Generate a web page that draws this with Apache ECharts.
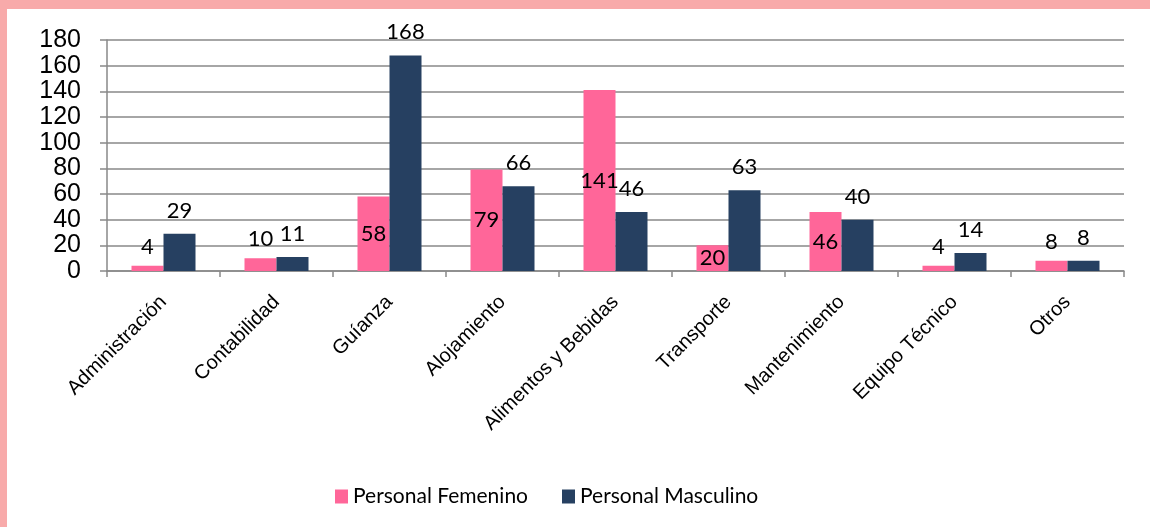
<!DOCTYPE html>
<html>
<head>
<meta charset="utf-8">
<script src="https://cdn.jsdelivr.net/npm/echarts@6/dist/echarts.min.js"></script>
<style>
  html, body { margin: 0; padding: 0; background: #fff; }
  #wrap { position: relative; width: 1150px; height: 530px; overflow: hidden; }
  #frameTop { position: absolute; left: 0; top: 0; width: 1150px; height: 9px; background: #f8aaaa; }
  #frameLeft { position: absolute; left: 0; top: 0; width: 7px; height: 527px; background: #f8aaaa; }
  #chart { position: absolute; left: 0; top: 0; width: 1150px; height: 530px; }
</style>
</head>
<body>
<div id="wrap">
  <div id="frameTop"></div>
  <div id="frameLeft"></div>
  <div id="chart"></div>
</div>
<script>
  const categorias = ["Administración", "Contabilidad", "Guíanza", "Alojamiento", "Alimentos y Bebidas", "Transporte", "Mantenimiento", "Equipo Técnico", "Otros"];
  const femenino = [4, 10, 58, 79, 141, 20, 46, 4, 8];
  const masculino = [29, 11, 168, 66, 46, 63, 40, 14, 8];
  const yTicks = [0, 20, 40, 60, 80, 100, 120, 140, 160, 180];

  const chart = echarts.init(document.getElementById("chart"));

  // etiquetas rosadas: dentro de la barra si cabe, si no arriba
  const femeninoData = femenino.map((v) => ({
    value: v,
    label: v > 15 ? { position: "inside" } : { position: "top", distance: 8 },
  }));

  const option = {
    animation: false,
    grid: { left: 107, right: 26, top: 40, bottom: 259, containLabel: false },
    legend: {
      top: 481,
      left: 330,
      itemWidth: 13,
      itemHeight: 14,
      itemGap: 34,
      icon: "rect",
      textStyle: { fontFamily: "Lato", fontSize: 21, color: "#000" },
    },
    xAxis: {
      type: "category",
      data: categorias,
      axisLine: { show: true, lineStyle: { color: "#898989", width: 1.5 } },
      axisTick: { show: true, length: 6, lineStyle: { color: "#898989", width: 1.5 } },
      axisLabel: {
        rotate: 45,
        interval: 0,
        margin: 28,
        fontFamily: "Liberation Sans",
        fontSize: 20,
        color: "#000",
      },
    },
    yAxis: {
      type: "value",
      min: yTicks[0],
      max: yTicks[yTicks.length - 1],
      interval: 20,
      axisLine: { show: true, lineStyle: { color: "#898989", width: 1.5 } },
      axisTick: { show: true, length: 7, lineStyle: { color: "#898989", width: 1.5 } },
      splitLine: { show: true, lineStyle: { color: "#898989", width: 1.5 } },
      axisLabel: {
        margin: 26,
        fontFamily: "Liberation Sans",
        fontSize: 25,
        color: "#000",
      },
    },
    series: [
      {
        name: "Personal Femenino",
        type: "bar",
        data: femeninoData,
        barWidth: 32,
        barGap: "0%",
        itemStyle: { color: "#ff6699" },
        label: { show: true, fontFamily: "Lato", fontSize: 22, color: "#000" },
      },
      {
        name: "Personal Masculino",
        type: "bar",
        data: masculino,
        barWidth: 32,
        barGap: "0%",
        itemStyle: { color: "#264061" },
        label: { show: true, position: "top", distance: 12, fontFamily: "Lato", fontSize: 22, color: "#000" },
      },
    ],
  };

  chart.setOption(option);
</script>
</body>
</html>
